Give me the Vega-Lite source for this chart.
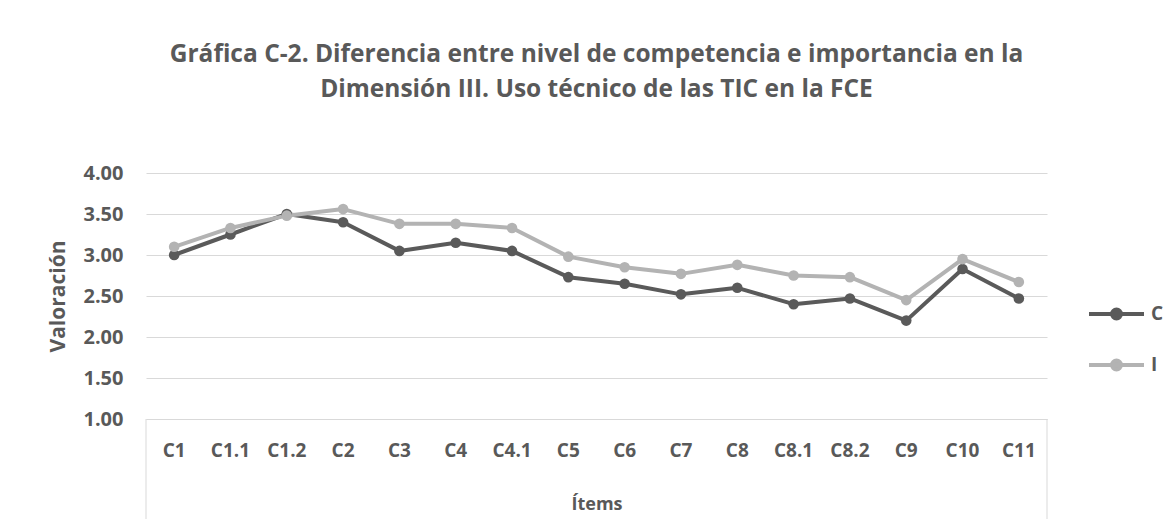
{
  "$schema": "https://vega.github.io/schema/vega-lite/v6.json",
  "width": 901,
  "height": 246,
  "autosize": {"type": "none"},
  "padding": {"left": 146, "top": 173, "right": 123, "bottom": 100},
  "background": "white",
  "title": {
    "text": ["Gráfica C-2. Diferencia entre nivel de competencia e importancia  en la", "Dimensión III. Uso técnico de las TIC en la FCE"],
    "anchor": "middle",
    "frame": "group",
    "font": "Open Sans",
    "fontSize": 24.5,
    "fontWeight": "bold",
    "color": "#595959",
    "lineHeight": 35,
    "offset": 61
  },
  "data": {
    "values": [
      {"item": "C1", "serie": "C", "valor": 3.00},
      {"item": "C1.1", "serie": "C", "valor": 3.25},
      {"item": "C1.2", "serie": "C", "valor": 3.50},
      {"item": "C2", "serie": "C", "valor": 3.40},
      {"item": "C3", "serie": "C", "valor": 3.05},
      {"item": "C4", "serie": "C", "valor": 3.15},
      {"item": "C4.1", "serie": "C", "valor": 3.05},
      {"item": "C5", "serie": "C", "valor": 2.73},
      {"item": "C6", "serie": "C", "valor": 2.65},
      {"item": "C7", "serie": "C", "valor": 2.52},
      {"item": "C8", "serie": "C", "valor": 2.60},
      {"item": "C8.1", "serie": "C", "valor": 2.40},
      {"item": "C8.2", "serie": "C", "valor": 2.47},
      {"item": "C9", "serie": "C", "valor": 2.20},
      {"item": "C10", "serie": "C", "valor": 2.83},
      {"item": "C11", "serie": "C", "valor": 2.47},
      {"item": "C1", "serie": "I", "valor": 3.10},
      {"item": "C1.1", "serie": "I", "valor": 3.33},
      {"item": "C1.2", "serie": "I", "valor": 3.48},
      {"item": "C2", "serie": "I", "valor": 3.56},
      {"item": "C3", "serie": "I", "valor": 3.38},
      {"item": "C4", "serie": "I", "valor": 3.38},
      {"item": "C4.1", "serie": "I", "valor": 3.33},
      {"item": "C5", "serie": "I", "valor": 2.98},
      {"item": "C6", "serie": "I", "valor": 2.85},
      {"item": "C7", "serie": "I", "valor": 2.77},
      {"item": "C8", "serie": "I", "valor": 2.88},
      {"item": "C8.1", "serie": "I", "valor": 2.75},
      {"item": "C8.2", "serie": "I", "valor": 2.73},
      {"item": "C9", "serie": "I", "valor": 2.45},
      {"item": "C10", "serie": "I", "valor": 2.95},
      {"item": "C11", "serie": "I", "valor": 2.67}
    ]
  },
  "layer": [
    {
      "mark": {"type": "line", "strokeWidth": 4, "strokeCap": "round", "strokeJoin": "round"},
      "encoding": {
        "x": {
          "field": "item",
          "type": "nominal",
          "title": "Ítems",
          "scale": {"domain": ["C1", "C1.1", "C1.2", "C2", "C3", "C4", "C4.1", "C5", "C6", "C7", "C8", "C8.1", "C8.2", "C9", "C10", "C11"]},
          "axis": {
            "labelAngle": 0,
            "labelFont": "Open Sans",
            "labelFontSize": 19,
            "labelFontWeight": "bold",
            "labelColor": "#595959",
            "labelPadding": 22,
            "labelBaseline": "top",
            "ticks": false,
            "domainColor": "#d9d9d9",
            "domainWidth": 1,
            "titleFont": "Open Sans",
            "titleFontSize": 18,
            "titleFontWeight": "bold",
            "titleColor": "#595959",
            "titlePadding": 35,
            "grid": false
          }
        },
        "y": {
          "field": "valor",
          "type": "quantitative",
          "title": "Valoración",
          "scale": {"domain": [1, 4], "nice": false, "zero": false},
          "axis": {
            "values": [1, 1.5, 2, 2.5, 3, 3.5, 4],
            "format": ".2f",
            "labelFont": "Open Sans",
            "labelFontSize": 20,
            "labelFontWeight": "bold",
            "labelColor": "#595959",
            "labelPadding": 23,
            "ticks": false,
            "domain": false,
            "grid": true,
            "gridColor": "#d9d9d9",
            "gridWidth": 1,
            "titleFont": "Open Sans",
            "titleFontSize": 21,
            "titleFontWeight": "bold",
            "titleColor": "#595959",
            "titlePadding": 14
          }
        },
        "color": {
          "field": "serie",
          "type": "nominal",
          "scale": {"domain": ["C", "I"], "range": ["#5a5a5a", "#b3b3b3"]},
          "legend": {
            "title": null,
            "orient": "none",
            "legendX": 958.5,
            "legendY": 129,
            "padding": 0,
            "rowPadding": 25,
            "symbolType": "M-2.75,0L2.75,0M0.45,0A0.45,0.45,0,1,1,-0.45,0A0.45,0.45,0,1,1,0.45,0Z",
            "symbolSize": 400,
            "symbolStrokeWidth": 4,
            "symbolOpacity": 1,
            "labelOffset": 22.5,
            "labelFont": "Open Sans",
            "labelFontSize": 19,
            "labelFontWeight": "bold",
            "labelColor": "#595959",
            "encode": {
              "symbols": {
                "update": {
                  "fill": {"scale": "color", "field": "value"},
                  "stroke": {"scale": "color", "field": "value"},
                  "fillOpacity": {"value": 1},
                  "strokeOpacity": {"value": 1}
                }
              }
            }
          }
        }
      }
    },
    {
      "mark": {"type": "point", "filled": true, "size": 113, "opacity": 1},
      "encoding": {
        "x": {"field": "item", "type": "nominal"},
        "y": {"field": "valor", "type": "quantitative"},
        "color": {"field": "serie", "type": "nominal"}
      }
    },
    {
      "data": {"values": [{"edge": "left"}]},
      "mark": {"type": "rule", "strokeWidth": 1, "clip": false, "color": "#d9d9d9"},
      "encoding": {
        "x": {"datum": "C1", "type": "nominal", "bandPosition": 0},
        "y": {"datum": 1, "type": "quantitative"},
        "y2": {"datum": -0.3}
      }
    },
    {
      "data": {"values": [{"edge": "right"}]},
      "mark": {"type": "rule", "strokeWidth": 1, "clip": false, "color": "#d9d9d9"},
      "encoding": {
        "x": {"datum": "C11", "type": "nominal", "bandPosition": 1},
        "y": {"datum": 1, "type": "quantitative"},
        "y2": {"datum": -0.3}
      }
    }
  ],
  "config": {
    "view": {"stroke": null},
    "font": "Open Sans"
  }
}
